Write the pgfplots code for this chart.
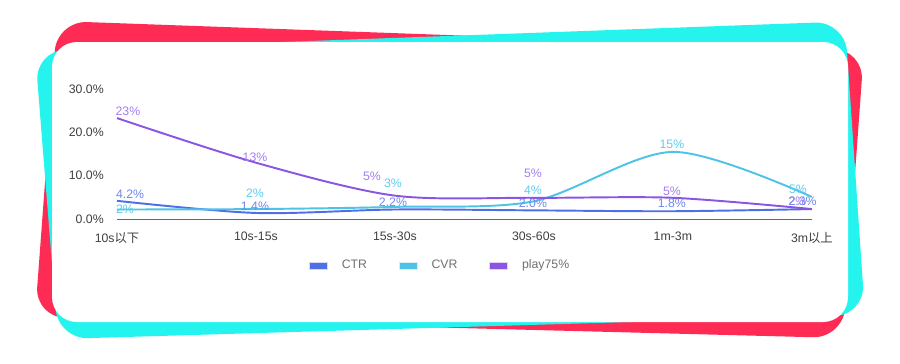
\documentclass[border=0pt]{standalone}
\usepackage{pgfplots}
\pgfplotsset{compat=1.18}
\usepackage{pgfplotstable}
\usepackage{fontspec}
\setmainfont{Liberation Sans}
\newfontfamily\cjk{Noto Sans CJK SC}
\definecolor{tkred}{HTML}{FE2C55}
\definecolor{tkcyan}{HTML}{25F4EE}
\definecolor{ctr}{HTML}{4F6FE6}
\definecolor{cvr}{HTML}{4EC3E8}
\definecolor{ply}{HTML}{8B55E4}
\definecolor{ctrl}{HTML}{6F88EE}
\definecolor{cvrl}{HTML}{5FCDEF}
\definecolor{plyl}{HTML}{A47FF0}
\definecolor{tick}{HTML}{404040}
\definecolor{legt}{HTML}{707070}
\tikzset{lab/.style={font=\fontsize{7}{8}\selectfont, inner sep=0pt}}
\pgfplotstableread{
x ctr cvr ply
0 4.2 2.2 23.3
1 1.4 2.3 13.0
2 2.2 2.8 5.4
3 2.0 4.1 4.9
4 1.8 15.5 4.9
5 2.3 5.1 2.3
}\datatab
\begin{document}
\begin{tikzpicture}[x=0.02cm,y=0.02cm]
\path[use as bounding box] (0,0) rectangle (900,363);
\fill[tkred, rounded corners=0.6cm] (57,342) -- (864,313) -- (843,25) -- (35,46) -- cycle;
\fill[tkcyan, rounded corners=0.6cm] (35,312) -- (845,341.5) -- (865,48) -- (58,24) -- cycle;
\fill[white, rounded corners=0.5cm] (52,41) rectangle (848,321);
\begin{axis}[
  at={(2.34cm,2.88cm)}, anchor=south west,
  scale only axis, width=13.9cm, height=2.6cm,
  xmin=0, xmax=5, ymin=0, ymax=30, clip=false,
  axis x line*=bottom, axis y line*=left,
  y axis line style={draw=none},
  x axis line style={draw=tick!80, line width=0.6pt},
  major tick length=0pt,
  xtick={0,1,2,3,4,5},
  xticklabels={10s{\cjk 以下},10s-15s,15s-30s,30s-60s,1m-3m,3m{\cjk 以上}},
  ytick={0,10,20,30},
  yticklabels={0.0\%,10.0\%,20.0\%,30.0\%},
  ticklabel style={font=\fontsize{7}{8}\selectfont, text=tick},
  yticklabel style={xshift=-0.14cm},
  xticklabel style={yshift=-0.14cm},
  legend style={at={(0.466,-0.36)}, anchor=center, draw=none, fill=none,
    legend columns=3, font=\fontsize{7}{8}\selectfont, text=legt,
    /tikz/every even column/.append style={column sep=0.56cm}},
]
\addplot[ctr, line width=1.1pt, smooth, tension=0.5,
  legend image code/.code={\fill[ctr, draw=ctr!25, line width=0.6pt] (0cm,-0.07cm) rectangle (0.36cm,0.07cm); \path (0.56cm,0);}]
  table[x=x, y=ctr] {\datatab};
\addlegendentry{CTR}
\addplot[cvr, line width=1.1pt, smooth, tension=0.5,
  legend image code/.code={\fill[cvr, draw=cvr!25, line width=0.6pt] (0cm,-0.07cm) rectangle (0.36cm,0.07cm); \path (0.56cm,0);}]
  table[x=x, y=cvr] {\datatab};
\addlegendentry{CVR}
\addplot[ply, line width=1.1pt, smooth, tension=0.5,
  legend image code/.code={\fill[ply, draw=ply!25, line width=0.6pt] (0cm,-0.07cm) rectangle (0.36cm,0.07cm); \path (0.56cm,0);}]
  table[x=x, y=ply] {\datatab};
\addlegendentry{play75\%}
% labels
\node[lab, text=plyl] at (axis cs:0.079,24.9) {23\%};
\node[lab, text=plyl] at (axis cs:0.993,14.3) {13\%};
\node[lab, text=plyl] at (axis cs:1.835,9.9) {5\%};
\node[lab, text=plyl] at (axis cs:2.993,10.6) {5\%};
\node[lab, text=plyl] at (axis cs:3.993,6.5) {5\%};
\node[lab, text=plyl, anchor=west] at (axis cs:4.83,4.15) {2\%};
\node[lab, text=cvrl] at (axis cs:0.058,2.3) {2\%};
\node[lab, text=cvrl] at (axis cs:0.993,6.0) {2\%};
\node[lab, text=cvrl] at (axis cs:1.986,8.3) {3\%};
\node[lab, text=cvrl] at (axis cs:2.993,6.7) {4\%};
\node[lab, text=cvrl] at (axis cs:3.993,17.3) {15\%};
\node[lab, text=cvrl] at (axis cs:4.9,6.9) {5\%};
\node[lab, text=ctrl] at (axis cs:0.094,5.77) {4.2\%};
\node[lab, text=ctrl] at (axis cs:0.993,3.0) {1.4\%};
\node[lab, text=ctrl] at (axis cs:1.986,3.9) {2.2\%};
\node[lab, text=ctrl] at (axis cs:2.993,3.7) {2.0\%};
\node[lab, text=ctrl] at (axis cs:3.993,3.7) {1.8\%};
\node[lab, text=ctrl, anchor=west] at (axis cs:4.83,4.15) {2.3\%};
\end{axis}
\end{tikzpicture}
\end{document}
